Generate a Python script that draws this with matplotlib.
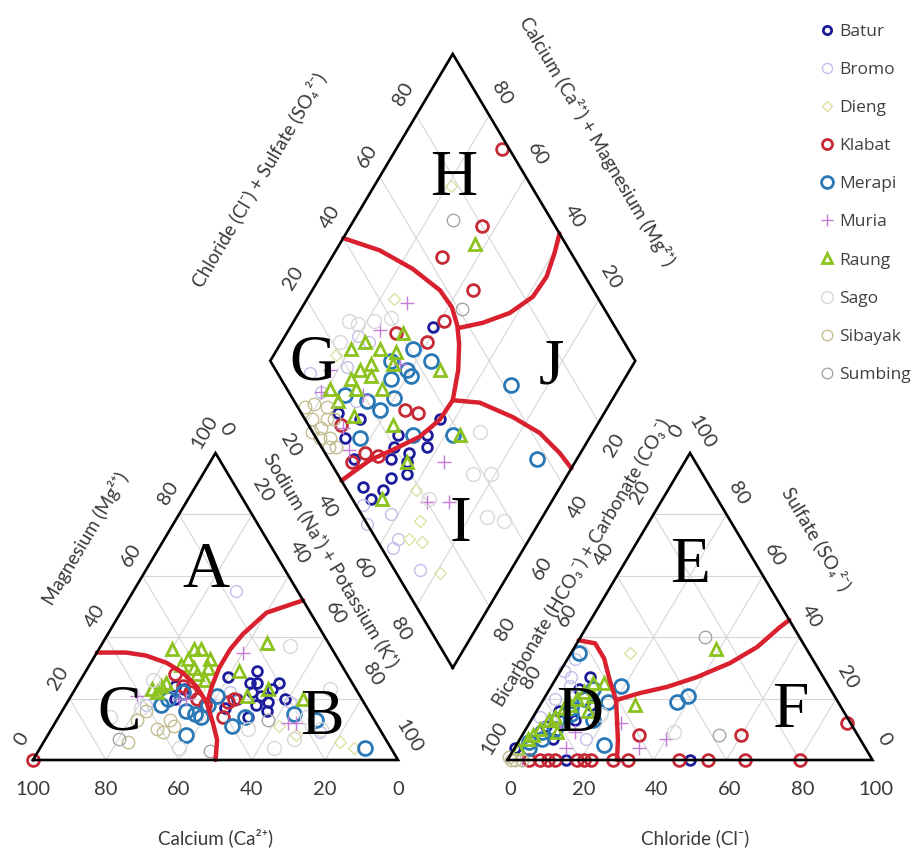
import numpy as np
import matplotlib
matplotlib.use("Agg")
import matplotlib.pyplot as plt
from matplotlib.lines import Line2D
from matplotlib.transforms import offset_copy

# ---------------- data ----------------
series_names = ["Batur", "Bromo", "Dieng", "Klabat", "Merapi", "Muria",
                "Raung", "Sago", "Sibayak", "Sumbing"]

# cation triangle points: (Ca %, Mg %), Na+K = 100 - Ca - Mg
batur_cat = [(49, 24), (47, 23), (51, 20), (24, 29), (28, 25), (26, 25), (29, 22), (27, 21),
             (23, 23), (20, 25), (21, 20), (26, 19), (30, 18), (34, 14), (33, 27), (39, 17),
             (28, 16), (34, 20)]
bromo_cat = [(17, 55), (17, 9), (35, 22), (20, 19), (60, 18)]
dieng_cat = [(27, 11), (24, 8), (13, 6), (10, 4), (43, 23)]
klabat_cat = [(47, 28), (47, 24), (46, 22), (37, 19), (35, 20), (41, 14), (44, 18), (45, 20), (100, 0)]
merapi_cat = [(56, 18), (50, 16), (48, 15), (47, 14), (40, 11), (35, 14), (54, 8), (21, 15),
              (16, 13), (7, 4), (39, 21), (48, 22), (53, 20), (43, 18)]
muria_cat = [(50, 20), (48, 20), (61, 21), (25, 35), (24, 12), (22, 12)]
raung_cat = [(44, 36), (38, 36), (36, 36), (41, 33), (35, 33), (41, 30), (37, 30), (41, 28),
             (29, 29), (17, 38), (56, 23), (53, 24), (51, 25), (55, 22), (24, 23), (16, 20),
             (31, 21), (44, 31), (40, 26)]
sago_cat = [(11, 37), (18, 14), (16, 10), (36, 10), (32, 4), (7, 23), (62, 17), (54, 26), (72, 14),
            (25, 7), (58, 4)]
sibayak_cat = [(65, 13), (56, 13), (56, 11), (61, 10), (71, 6), (60, 9), (61, 16)]
sumbing_cat = [(73, 7), (50, 3), (29, 13)]

# anion triangle points: (Cl %, SO4 %), HCO3+CO3 = 100 - Cl - SO4
batur_an = [(16, 0), (50, 0), (9, 27), (8, 23), (9, 7), (0, 4), (6, 16), (14, 18), (5, 11), (12, 13)]
bromo_an = [(1, 29), (5, 24), (3, 20), (18, 7), (2, 14), (2, 33), (4, 27)]
dieng_an = [(16, 35)]
klabat_an = [(6, 0), (9, 0), (11, 0), (13, 0), (19, 0), (21, 0), (23, 0), (29, 0), (33, 0),
             (47, 0), (55, 0), (65, 0), (80, 0), (32, 8), (60, 8), (87, 12)]
merapi_an = [(2, 35), (19, 24), (37, 19), (39, 21), (24, 5), (18, 19), (10, 15), (8, 10), (6, 7),
             (11, 20), (17, 13), (4, 4), (3, 6), (5, 9), (7, 13), (9, 17), (12, 23)]
muria_an = [(40, 7), (34, 4), (25, 12), (14, 4), (14, 9), (9, 11), (4, 0)]
raung_an = [(39, 36), (26, 18), (14, 25), (7, 17), (9, 20), (5, 13), (4, 10), (2, 7), (9, 9),
            (14, 16), (13, 21), (3, 8), (6, 14), (8, 18), (10, 22), (1, 4), (11, 25)]
sago_an = [(41, 9), (18, 15)]
sibayak_an = [(1, 0), (2, 0), (4, 0), (0, 1)]
sumbing_an = [(34, 40), (54, 8)]

# diamond points: (Ca+Mg %, Cl+SO4 %)
batur_dia = [(61, 50), (73, 10), (66, 15), (53, 23), (45, 31), (44, 37), (52, 20), (47, 23),
             (43, 29), (51, 17), (46, 21), (48, 14), (44, 19), (54, 5), (48, 10), (50, 5),
             (67, 8), (61, 7)]
bromo_dia = [(42, 8), (36, 6), (36, 3), (25, 7), (51, 2), (81, 9), (78, 20), (47, 0), (87, 9),
             (80, 28), (76, 30), (70, 17)]
dieng_dia = [(39, 19), (33, 15), (33, 9), (29, 12), (19, 12), (79, 78), (76, 44), (83, 19)]
klabat_dia = [(71, 98), (64, 80), (70, 64), (56, 67), (59, 54), (60, 46), (70, 39), (55, 29),
              (70, 9), (59, 11), (61, 6), (55, 14), (51, 32)]
merapi_dia = [(63, 41), (56, 44), (67, 33), (61, 36), (59, 36), (64, 30), (74, 15), (67, 20),
              (60, 28), (62, 22), (63, 12), (49, 27), (38, 38), (30, 62), (11, 57)]
muria_dia = [(72, 47), (75, 35), (64, 35), (69, 20), (81, 9), (69, 9), (64, 7), (36, 31),
             (34, 20), (28, 26), (82, 15)]
raung_dia = [(68, 41), (80, 24), (77, 29), (72, 32), (67, 36), (74, 23), (72, 27), (70, 25),
             (75, 19), (79, 12), (72, 19), (65, 26), (75, 12), (52, 45), (56, 23), (36, 40),
             (68, 14), (66, 33), (47, 8), (46, 21), (63, 75)]
sago_dia = [(26, 37), (21, 42), (15, 34), (10, 38), (31, 46), (85, 28), (34, 21),
            (82, 30), (78, 35), (74, 40), (84, 22)]
sibayak_dia = [(79, 2), (75, 3), (71, 4), (68, 4), (77, 0), (74, 1), (83, 2), (75, 6),
               (81, 5), (77, 8), (73, 8), (70, 2)]
sumbing_dia = [(73, 73), (56, 61)]

cat_data = {"Batur": batur_cat, "Bromo": bromo_cat, "Dieng": dieng_cat, "Klabat": klabat_cat,
            "Merapi": merapi_cat, "Muria": muria_cat, "Raung": raung_cat, "Sago": sago_cat,
            "Sibayak": sibayak_cat, "Sumbing": sumbing_cat}
an_data = {"Batur": batur_an, "Bromo": bromo_an, "Dieng": dieng_an, "Klabat": klabat_an,
           "Merapi": merapi_an, "Muria": muria_an, "Raung": raung_an, "Sago": sago_an,
           "Sibayak": sibayak_an, "Sumbing": sumbing_an}
dia_data = {"Batur": batur_dia, "Bromo": bromo_dia, "Dieng": dieng_dia, "Klabat": klabat_dia,
            "Merapi": merapi_dia, "Muria": muria_dia, "Raung": raung_dia, "Sago": sago_dia,
            "Sibayak": sibayak_dia, "Sumbing": sumbing_dia}

# red hydrochemical-facies boundaries
cat_bound_1 = [(65, 35), (57, 35), (52, 34), (47.5, 31.6), (44.7, 28.3), (43.2, 23.8),
               (43.1, 18.6), (44.7, 12), (46.3, 6.5), (50, 0)]
cat_bound_2 = [(0, 52), (12, 48), (22, 41), (28, 36), (34, 30), (39, 24), (43, 18.6)]
an_bound_1 = [(0, 39), (5, 38), (10, 33), (15, 26), (20, 19.5), (23.5, 13), (27, 6.5), (30, 0)]
an_bound_2 = [(20, 19.5), (25.4, 21.8), (31.8, 23.8), (38.4, 27), (45.2, 31.6), (50, 36.8),
              (53, 43.3), (54.4, 45.6)]
dia_bound_g = [(100, 40), (88, 48), (76, 54), (65, 58), (59, 58.5), (54.5, 57), (51, 54.5),
               (47, 50), (43.6, 43.6), (44, 36.8), (46.7, 28.6), (52, 19), (56.6, 11), (61, 0)]
dia_bound_hj = [(53.5, 57.3), (48, 64.4), (42.2, 73.4), (38.5, 82.4), (38, 89.4), (39.7, 95.5),
                (41.5, 100)]
dia_bound_ij = [(43.6, 43.6), (35.8, 50.6), (24.4, 57.3), (14.4, 62.1), (5.7, 64.3), (0, 65)]

# region letters
cat_letters = {"A": (21, 63.5), "B": (13, 15.6), "C": (68, 16.9)}
an_letters = {"D": (11.7, 16.3), "E": (17.4, 65.1), "F": (68.4, 17.9)}
dia_letters = {"G": (88.8, 12.1), "H": (80.3, 80.9), "I": (21.9, 26.3), "J": (22.7, 77)}

tri_ticks = [0, 20, 40, 60, 80, 100]
dia_ticks = [20, 40, 60, 80]

# ---------------- geometry ----------------
H = np.sqrt(3) / 2
GAP = 0.3
AN_X0 = 1 + GAP
DB_X, DB_Y = 1 + GAP / 2, GAP / 2 * np.sqrt(3)


def cat_xy(ca, mg):
    ca = np.asarray(ca, float); mg = np.asarray(mg, float)
    nak = 100 - ca - mg
    return (nak + 0.5 * mg) / 100, mg / 100 * H


def an_xy(cl, so4):
    cl = np.asarray(cl, float); so4 = np.asarray(so4, float)
    return AN_X0 + (cl + 0.5 * so4) / 100, so4 / 100 * H


def dia_xy(camg, clso4):
    a = np.asarray(camg, float) / 100; b = np.asarray(clso4, float) / 100
    return DB_X + 0.5 * (b - a), DB_Y + H * (a + b)


styles = {
    "Batur": dict(marker='o', color='#1c1c9c', ms=7, mew=2.0),
    "Bromo": dict(marker='o', color='#c2c0e8', ms=8.5, mew=1.0),
    "Dieng": dict(marker='D', color='#dfe0a4', ms=6, mew=1.0),
    "Klabat": dict(marker='o', color='#c62a36', ms=8.5, mew=2.0),
    "Merapi": dict(marker='o', color='#2a78b6', ms=10, mew=2.0),
    "Muria": dict(marker='+', color='#c27ed6', ms=10, mew=1.0),
    "Raung": dict(marker='^', color='#8cc21e', ms=9, mew=2.0),
    "Sago": dict(marker='o', color='#d8d8d8', ms=10, mew=1.0),
    "Sibayak": dict(marker='o', color='#c4be94', ms=9, mew=1.0),
    "Sumbing": dict(marker='o', color='#a6a6a6', ms=9, mew=1.0),
}

W, HGT = 917, 855
fig = plt.figure(figsize=(W / 100, HGT / 100), dpi=100)
ax = fig.add_axes([0, 0, 1, 1])
ax.set_xlim(-0.0904, 2.4219)
ax.set_ylim(-0.268, 2.1439)
ax.axis('off')

GRID = dict(color='#d6d6d6', lw=0.8, zorder=1)
for v in [20, 40, 60, 80]:
    ax.plot(*cat_xy([v, v], [0, 100 - v]), **GRID)
    ax.plot(*cat_xy([100 - v, 0], [v, v]), **GRID)
    ax.plot(*cat_xy([100 - v, 0], [0, 100 - v]), **GRID)
    ax.plot(*an_xy([v, v], [0, 100 - v]), **GRID)
    ax.plot(*an_xy([100 - v, 0], [v, v]), **GRID)
    ax.plot(*an_xy([100 - v, 0], [0, 100 - v]), **GRID)
    ax.plot(*dia_xy([v, v], [0, 100]), **GRID)
    ax.plot(*dia_xy([0, 100], [v, v]), **GRID)

# data
for name in series_names:
    st = styles[name]
    for data, fn in ((cat_data, cat_xy), (an_data, an_xy), (dia_data, dia_xy)):
        pts = np.array(data[name], float)
        x, y = fn(pts[:, 0], pts[:, 1])
        ax.plot(x, y, ls='none', marker=st['marker'], mfc='none', mec=st['color'],
                ms=st['ms'], mew=st['mew'], zorder=3)

# boundaries
RED = dict(color='#d9202e', lw=3.2, solid_capstyle='round', solid_joinstyle='round', zorder=4)
for b in (cat_bound_1, cat_bound_2):
    p = np.array(b); ax.plot(*cat_xy(p[:, 0], p[:, 1]), **RED)
for b in (an_bound_1, an_bound_2):
    p = np.array(b); ax.plot(*an_xy(p[:, 0], p[:, 1]), **RED)
for b in (dia_bound_g, dia_bound_hj, dia_bound_ij):
    p = np.array(b); ax.plot(*dia_xy(p[:, 0], p[:, 1]), **RED)

# outlines
OUT = dict(color='black', lw=1.9, zorder=5, solid_joinstyle='miter')
ax.plot(*cat_xy([100, 0, 0, 100], [0, 0, 100, 0]), **OUT)
ax.plot(*an_xy([0, 100, 0, 0], [0, 0, 100, 0]), **OUT)
ax.plot(*dia_xy([0, 100, 100, 0, 0], [0, 0, 100, 100, 0]), **OUT)

# ticks
TK = dict(fontsize=14.5, color='#3a3a3a', family='Lato', ha='center', va='center',
          rotation_mode='anchor', zorder=6)
ANG = 59.3


def tlabel(x, y, s, dx, dy, rot):
    ax.text(x, y, s, transform=offset_copy(ax.transData, fig=fig, x=dx, y=dy, units='dots'),
            rotation=rot, **TK)


for v in tri_ticks:
    tlabel(*cat_xy(v, 0), str(v), 0, -30, 0)
    tlabel(*cat_xy(100 - v, v), str(v), -11, 21, ANG)
    tlabel(*cat_xy(0, 100 - v), str(v), 11, 24, -ANG)
    tlabel(*an_xy(v, 0), str(v), 3, -30, 0)
    tlabel(*an_xy(0, 100 - v), str(v), -13, 22, ANG)
    tlabel(*an_xy(100 - v, v), str(v), 12, 21, -ANG)
for v in dia_ticks:
    tlabel(*dia_xy(100, v), str(v), -13, 21, ANG)
    tlabel(*dia_xy(v, 100), str(v), 12, 22, -ANG)
    tlabel(*dia_xy(100 - v, 0), str(v), -16, -23, -ANG)
    tlabel(*dia_xy(0, 100 - v), str(v), 16, -23, ANG)

# axis titles
AX = dict(fontsize=13.5, color='#3a3a3a', family=['Lato', 'DejaVu Sans'], ha='center',
          va='center', rotation_mode='anchor', zorder=6)


def alabel(x, y, s, dx, dy, rot):
    ax.text(x, y, s, transform=offset_copy(ax.transData, fig=fig, x=dx, y=dy, units='dots'),
            rotation=rot, **AX)


alabel(*cat_xy(50, 0), 'Calcium (Ca²⁺)', 0, -78, 0)
alabel(*an_xy(50, 0), 'Chloride (Cl⁻)', 5, -78, 0)
alabel(*cat_xy(50, 50), 'Magnesium (Mg²⁺)', -39, 68, ANG)
alabel(*cat_xy(0, 50), 'Sodium (Na⁺) + Potassium (K⁺)', 25, 46, -ANG)
alabel(*an_xy(0, 50), 'Bicarbonate (HCO₃⁻) + Carbonate (CO₃⁻)', -18, 44, ANG)
alabel(*an_xy(50, 50), 'Sulfate (SO₄²⁻)', 36, 68, -ANG)
alabel(*dia_xy(100, 50), 'Chloride (Cl⁻) + Sulfate (SO₄²⁻)', -103, 28, ANG)
alabel(*dia_xy(50, 100), 'Calcium (Ca²⁺) + Magnesium (Mg²⁺)', 53, 66, -ANG)

# region letters
LT = dict(fontsize=47, family='Liberation Serif', color='black', ha='center', va='baseline',
          zorder=7)
ltr = offset_copy(ax.transData, fig=fig, x=0, y=-21.5, units='dots')
for k, (a, b) in cat_letters.items():
    ax.text(*cat_xy(a, b), k, transform=ltr, **LT)
for k, (a, b) in an_letters.items():
    ax.text(*an_xy(a, b), k, transform=ltr, **LT)
for k, (a, b) in dia_letters.items():
    ax.text(*dia_xy(a, b), k, transform=ltr, **LT)

# legend
handles = [Line2D([], [], ls='none', marker=styles[n]['marker'], mfc='none',
                  mec=styles[n]['color'], ms=styles[n]['ms'] * 0.85, mew=styles[n]['mew'])
           for n in series_names]
leg = fig.legend(handles, series_names, loc='upper left', bbox_to_anchor=(811 / W, 1 - 15 / HGT),
                 frameon=False, labelspacing=1.265, handlelength=0.8, handletextpad=0.3,
                 borderpad=0, prop={'family': 'Open Sans', 'size': 12.5})
for t in leg.get_texts():
    t.set_color('#404040')

fig.savefig('out.png', dpi=100)
